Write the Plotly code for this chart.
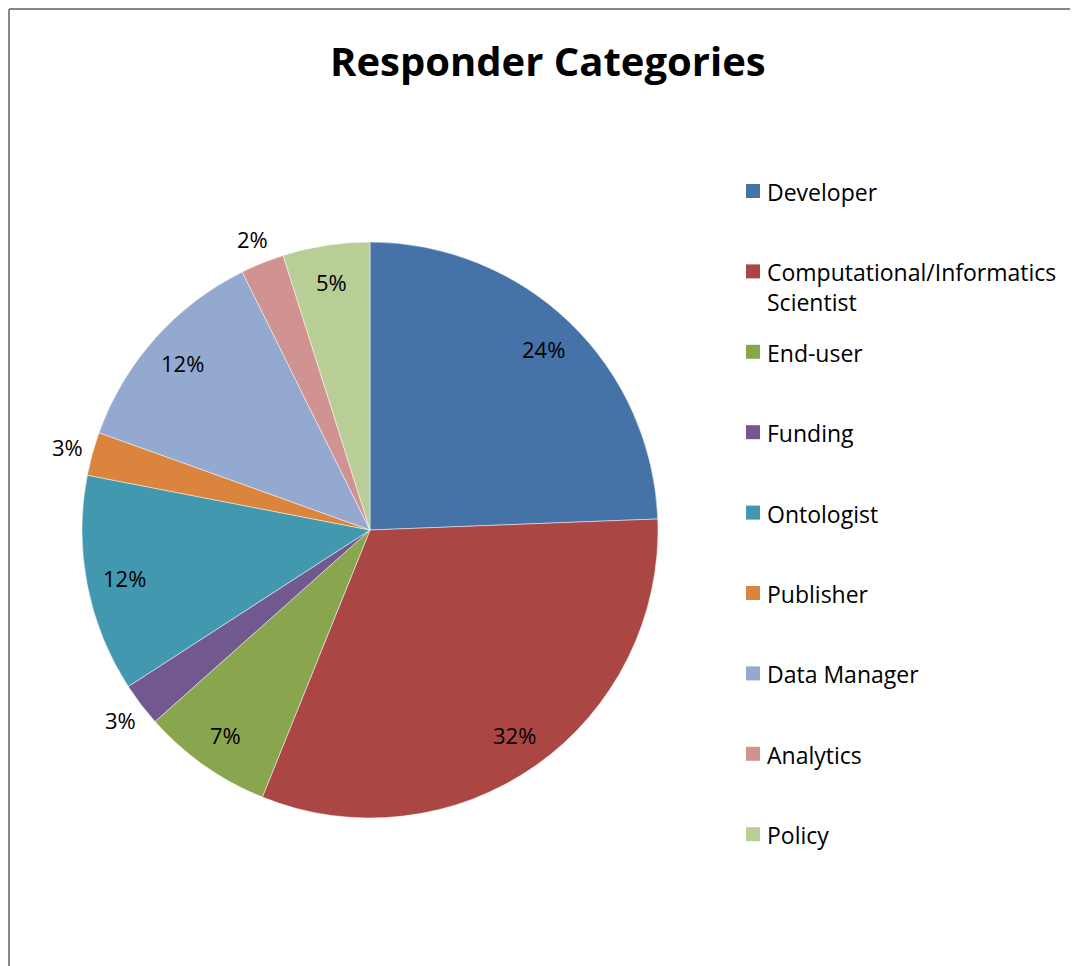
import math
import plotly.graph_objects as go

# ---- data ----
categories = ["Developer", "Computational/Informatics Scientist", "End-user", "Funding",
              "Ontologist", "Publisher", "Data Manager", "Analytics", "Policy"]
legend_text = ["Developer", "Computational/Informatics<br>Scientist", "End-user", "Funding",
               "Ontologist", "Publisher", "Data Manager", "Analytics", "Policy"]
values = [10, 13, 3, 1, 5, 1, 5, 1, 2]
pct_labels = ["24%", "32%", "7%", "3%", "12%", "3%", "12%", "2%", "5%"]
label_outside = [False, False, False, True, False, True, False, True, False]
colors = ["#4572A7", "#AA4643", "#89A54E", "#71588F", "#4198AF",
          "#DB843D", "#93A9CF", "#D19392", "#B9CD96"]

# page has an 8px body margin; work in screen pixels and shift
OFF = 8
W, H = 1078 - OFF, 966 - OFF
FONT = "Open Sans"


def fx(px):
    return (px - OFF) / W


def fy(py):
    return 1 - (py - OFF) / H


# pie geometry (screen pixels)
cx, cy, R = 370, 530, 288

fig = go.Figure()
fig.add_trace(go.Pie(
    labels=categories, values=values, sort=False, direction="clockwise", rotation=0,
    marker=dict(colors=colors, line=dict(color="rgba(255,255,255,0.6)", width=0.8)),
    textinfo="none", hoverinfo="label+percent", showlegend=False,
    domain=dict(x=[fx(cx - R), fx(cx + R)], y=[fy(cy + R), fy(cy - R)]),
))

annotations = []
total = sum(values)
cum = 0
for v, lab, out in zip(values, pct_labels, label_outside):
    mid = (cum + v / 2) / total * 2 * math.pi
    cum += v
    rr = R * (1.09 if out else 0.87)
    px = cx + rr * math.sin(mid)
    py = cy - rr * math.cos(mid)
    annotations.append(dict(x=fx(px), y=fy(py), xref="paper", yref="paper",
                            text=lab, showarrow=False, xanchor="center", yanchor="middle",
                            font=dict(family=FONT, size=22, color="#000000")))

# legend (manual)
shapes = []
ly0, lstep = 191, 80.4
for i, (t, c) in enumerate(zip(legend_text, colors)):
    yy = ly0 + i * lstep
    shapes.append(dict(type="rect", xref="paper", yref="paper",
                       x0=fx(746), x1=fx(760), y0=fy(yy + 7), y1=fy(yy - 7),
                       fillcolor=c, line=dict(width=0)))
    annotations.append(dict(x=fx(765), y=fy(yy - 17), xref="paper", yref="paper",
                            text=t, showarrow=False, xanchor="left", yanchor="top", align="left",
                            font=dict(family=FONT, size=23, color="#000000")))

# chart frame
shapes.append(dict(type="line", xref="paper", yref="paper", x0=fx(9), x1=1, y0=fy(9), y1=fy(9),
                   line=dict(color="#878787", width=2)))
shapes.append(dict(type="line", xref="paper", yref="paper", x0=fx(9), x1=fx(9), y0=0, y1=fy(9),
                   line=dict(color="#878787", width=2)))

# title
annotations.append(dict(x=fx(548), y=fy(60), xref="paper", yref="paper",
                        text="<b>Responder Categories</b>", showarrow=False,
                        xanchor="center", yanchor="middle",
                        font=dict(family=FONT, size=40, color="#000000")))

fig.update_layout(width=W, height=H, margin=dict(l=0, r=0, t=0, b=0),
                  paper_bgcolor="white", plot_bgcolor="white",
                  annotations=annotations, shapes=shapes, showlegend=False)
fig.write_html("out.html")
